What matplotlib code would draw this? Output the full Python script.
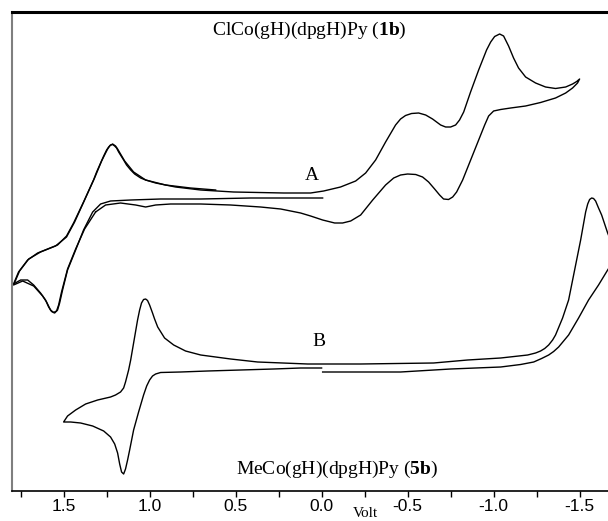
import matplotlib.pyplot as plt
import numpy as np
from matplotlib.ticker import MultipleLocator

plt.rcParams['mathtext.fontset'] = 'custom'
plt.rcParams['mathtext.rm'] = 'Liberation Serif'
plt.rcParams['mathtext.bf'] = 'Liberation Serif:bold'

# CV of 1b (trace A): potential in V, current in arbitrary units
a_volt = [-0.006, 0.122, 0.413, 0.703, 0.936, 1.110, 1.227, 1.285, 1.331, 1.384,
          1.430, 1.477, 1.506, 1.523, 1.535, 1.552, 1.570, 1.587, 1.605, 1.634,
          1.674, 1.709, 1.750, 1.791, 1.762, 1.709, 1.651, 1.593, 1.535, 1.483,
          1.442, 1.384, 1.326, 1.308, 1.285, 1.267, 1.250, 1.238, 1.227, 1.215,
          1.203, 1.192, 1.180, 1.169, 1.151, 1.134, 1.110, 1.087, 1.052, 1.023,
          0.965, 0.849, 0.703, 0.512, 0.221, 0.064, -0.012, -0.110, -0.198, -0.256,
          -0.314, -0.372, -0.430, -0.459, -0.488, -0.523, -0.564, -0.605, -0.645, -0.692,
          -0.721, -0.750, -0.779, -0.802, -0.826, -0.866, -0.913, -0.959, -0.983, -1.006,
          -1.035, -1.058, -1.087, -1.116, -1.145, -1.186, -1.244, -1.302, -1.360, -1.419,
          -1.459, -1.483, -1.500, -1.488, -1.459, -1.419, -1.360, -1.273, -1.186, -1.099,
          -1.041, -1.000, -0.971, -0.948, -0.913, -0.866, -0.820, -0.785, -0.762, -0.738,
          -0.709, -0.686, -0.657, -0.622, -0.587, -0.547, -0.500, -0.459, -0.419, -0.372,
          -0.297, -0.227, -0.169, -0.122, -0.076, -0.006, 0.064, 0.122, 0.238, 0.355,
          0.529, 0.703, 0.878, 0.965, 1.023, 1.081, 1.169, 1.256, 1.314]
a_curr = [293, 293, 293, 292, 292, 291, 290, 287, 279, 261,
          241, 221, 201, 188, 181, 178, 179.5, 184, 191, 198,
          206, 211, 211, 207, 219, 231, 238, 242, 246, 255,
          268, 289, 311, 319, 328, 335, 341, 344, 346, 346.5,
          345, 343, 339, 336, 331, 326, 321, 317, 313, 311,
          308, 304, 301, 299, 298, 298, 300, 304, 310, 318,
          331, 349, 366, 372, 375.5, 377.5, 378, 376, 372, 366,
          364, 364, 366, 371, 379, 399, 421, 441, 449, 454.5,
          457, 455, 445, 433, 423, 414, 408, 404, 402.5, 404,
          407, 409.5, 412, 408, 403, 398, 393, 388.5, 385, 383,
          381.5, 380, 375, 366, 351, 331, 311, 299, 294, 291.5,
          292, 296, 302, 309, 314, 316.5, 317, 316, 313, 306,
          291, 276, 270, 268, 268, 271, 275, 278, 282, 284,
          286, 287, 287, 286, 284, 286, 288, 286, 279]

# second sweep of trace A over the anodic vertex
a2_volt = [1.314, 1.378, 1.430, 1.477, 1.512, 1.529, 1.541, 1.558, 1.576, 1.599,
           1.622, 1.674, 1.738, 1.791, 1.756, 1.703, 1.634, 1.547, 1.483, 1.436,
           1.378, 1.320, 1.279, 1.256, 1.244, 1.230, 1.215, 1.198, 1.186, 1.169,
           1.145, 1.093, 1.023, 0.907, 0.762, 0.616]
a2_curr = [279, 262, 242, 222, 199, 186, 180, 178.5, 181, 189,
           195, 205, 210, 206, 220, 232, 239, 245, 254, 269,
           291, 313, 330, 338, 342, 345.5, 347, 345, 342, 337,
           330, 319, 311, 306, 303, 301]

# CV of 5b (trace B)
b_volt = [0.000, 0.122, 0.279, 0.471, 0.663, 0.820, 0.936, 0.965, 0.983, 1.000,
          1.017, 1.035, 1.064, 1.093, 1.116, 1.128, 1.140, 1.151, 1.163, 1.174,
          1.186, 1.203, 1.227, 1.267, 1.331, 1.401, 1.459, 1.500, 1.477, 1.430,
          1.372, 1.302, 1.227, 1.198, 1.169, 1.151, 1.140, 1.128, 1.122, 1.110,
          1.093, 1.070, 1.058, 1.047, 1.035, 1.023, 1.012, 1.000, 0.983, 0.971,
          0.953, 0.913, 0.860, 0.791, 0.703, 0.529, 0.372, 0.081, -0.227, -0.651,
          -0.849, -1.041, -1.198, -1.244, -1.273, -1.297, -1.320, -1.343, -1.360, -1.401,
          -1.436, -1.471, -1.506, -1.535, -1.547, -1.558, -1.570, -1.581, -1.593, -1.610,
          -1.628, -1.663, -1.698, -1.715, -1.692, -1.663, -1.610, -1.552, -1.494, -1.436,
          -1.378, -1.349, -1.320, -1.279, -1.233, -1.157, -1.041, -0.750, -0.459, -0.227,
          -0.035, -0.006]
b_curr = [123, 123, 122, 121, 120, 119, 118.5, 117, 115, 111,
          105, 96, 79, 61, 41, 31, 22, 17, 19, 27,
          38, 47, 54, 60, 65, 68, 69, 69, 75, 81,
          87, 91, 94, 96, 99, 103, 109, 117, 121, 131,
          148, 171, 181, 188, 191.5, 192, 190.5, 186, 178, 172,
          164, 153, 146, 140, 136, 132, 129, 127, 127, 128,
          131, 133, 136, 138, 140, 142.5, 146, 151, 156, 173,
          191, 221, 251, 279, 287, 291.5, 293, 292.5, 290, 283,
          276, 258, 243, 233, 229, 221, 206, 191, 173, 156,
          144, 139.5, 136, 132.5, 129, 126.5, 124, 122, 119, 119,
          119, 119]

fig = plt.figure(figsize=(6.08, 5.21), dpi=100)
ax = fig.add_axes([12 / 608, 30 / 521, 596 / 608, 479 / 521])

for xs, ys in [(a_volt, a_curr), (a2_volt, a2_curr), (b_volt, b_curr)]:
    ax.plot(xs, ys, color='black', lw=1.0, solid_joinstyle='round')

ax.set_xlim(1.8, -1.665)
ax.set_ylim(0, 479)

ax.spines['right'].set_visible(False)
ax.spines['top'].set_linewidth(2.2)
ax.spines['left'].set_color('#7f7f7f')
ax.spines['left'].set_linewidth(1.5)
ax.spines['bottom'].set_linewidth(1.2)

ax.set_yticks([])
ax.xaxis.set_major_locator(MultipleLocator(0.5))
ax.xaxis.set_minor_locator(MultipleLocator(0.25))
ax.tick_params(axis='x', which='both', direction='out', length=4, width=1,
               pad=2, labelsize=12.5)
ax.xaxis.set_major_formatter(plt.FuncFormatter(lambda v, p: '%.1f' % v))
for lab in ax.get_xticklabels():
    lab.set_fontfamily('Liberation Sans')

serif = 'Liberation Serif'
ax.text(0.07, 461, r'ClCo(gH)(dpgH)Py ($\mathbf{1b}$)', family=serif,
        fontsize=14, ha='center', va='center')
ax.text(-0.09, 22, r'MeCo(gH)(dpgH)Py ($\mathbf{5b}$)', family=serif,
        fontsize=14, ha='center', va='center')
ax.text(0.055, 316, 'A', family=serif, fontsize=14, ha='center', va='center')
ax.text(0.017, 149, 'B', family=serif, fontsize=14, ha='center', va='center')
fig.text(365 / 608, 1 / 521, 'Volt', family=serif, fontsize=11,
         ha='center', va='bottom')

fig.savefig('out.png', dpi=100)
